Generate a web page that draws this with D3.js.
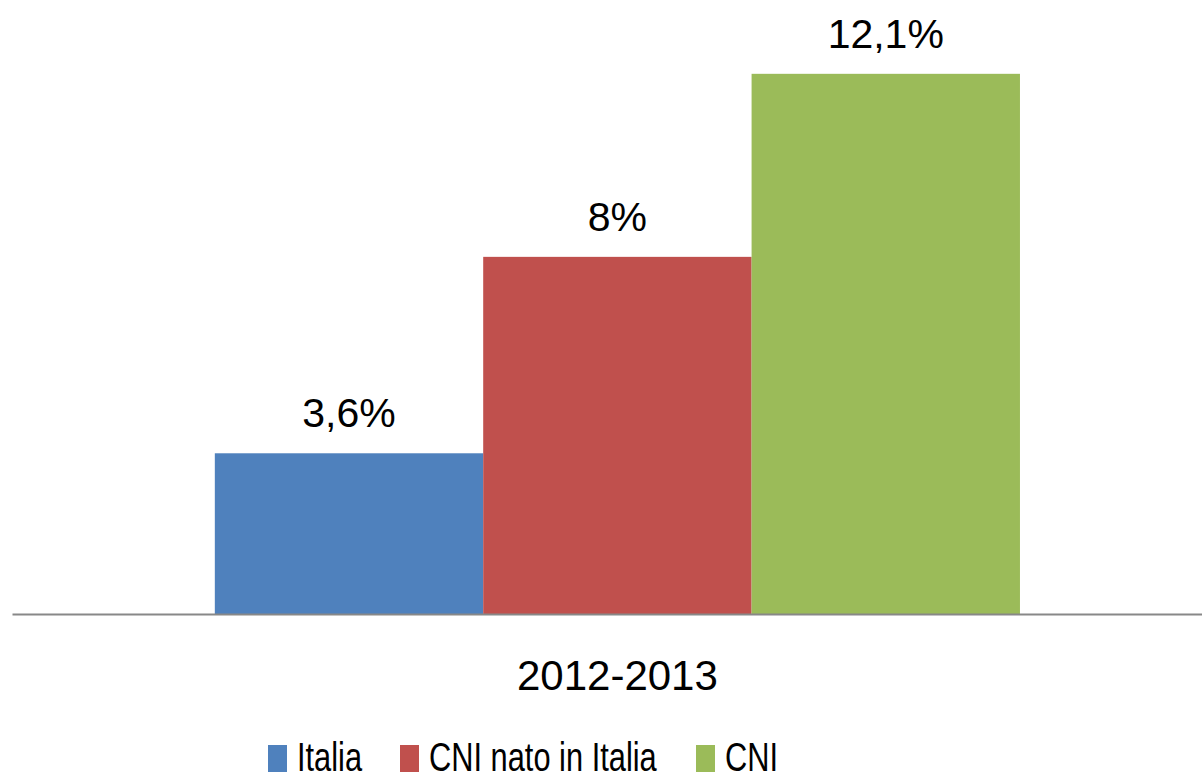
<!DOCTYPE html>
<html>
<head>
<meta charset="utf-8">
<script src="https://cdn.jsdelivr.net/npm/d3@7"></script>
<style>
  body { margin: 0; background: #fff; }
  text { font-family: "Liberation Sans", Arial, sans-serif; fill: #000; }
</style>
</head>
<body>
<div id="chart"></div>
<script>
// data
var categories = ["2012-2013"];
var seriesNames = ["Italia", "CNI nato in Italia", "CNI"];
var values = [3.6, 8, 12.1];
var valueLabels = ["3,6%", "8%", "12,1%"];
var colors = ["#4f81bd", "#c0504d", "#9bbb59"];

var svgWidth = 1202, svgHeight = 778;

var svg = d3.select("#chart")
    .append("svg")
    .attr("width", svgWidth)
    .attr("height", svgHeight);

// scales
var x0 = d3.scaleBand()
    .domain(categories)
    .range([12, 1202])
    .paddingInner(0)
    .paddingOuter(0.239)
    .align(0.527);

var x1 = d3.scaleBand()
    .domain(seriesNames)
    .range([0, x0.bandwidth()]);

var y = d3.scaleLinear()
    .domain([0, 14])
    .range([614, -11]);

var color = d3.scaleOrdinal().domain(seriesNames).range(colors);

var rows = seriesNames.map(function (s, i) {
    return { name: s, value: values[i], label: valueLabels[i], cat: categories[0] };
});

// bars
var barGroup = svg.append("g");
barGroup.selectAll("rect")
    .data(rows)
    .enter()
    .append("rect")
    .attr("x", d => x0(d.cat) + x1(d.name))
    .attr("y", d => y(d.value))
    .attr("width", x1.bandwidth())
    .attr("height", d => y(0) - y(d.value))
    .attr("fill", d => color(d.name));

// value labels
barGroup.selectAll("text")
    .data(rows)
    .enter()
    .append("text")
    .attr("x", d => x0(d.cat) + x1(d.name) + x1.bandwidth() / 2)
    .attr("y", d => y(d.value) - 26)
    .attr("text-anchor", "middle")
    .attr("font-size", "41px")
    .text(d => d.label);

// x axis
var xAxis = d3.axisBottom(x0).tickSize(0).tickSizeOuter(0).tickPadding(46);
var axisG = svg.append("g")
    .attr("transform", `translate(0, ${y(0)})`)
    .call(xAxis);
axisG.select(".domain").attr("stroke", "#888").attr("stroke-width", 2);
axisG.selectAll(".tick text")
    .attr("font-size", "42px")
    .attr("font-family", "'Liberation Sans', Arial, sans-serif")
    .attr("fill", "#000");

// legend
var legendX = [268, 400, 696];
var legend = svg.append("g");
var items = legend.selectAll("g")
    .data(seriesNames)
    .enter()
    .append("g")
    .attr("transform", (d, i) => `translate(${legendX[i]}, 745)`);

items.append("rect")
    .attr("width", 19)
    .attr("height", 27)
    .attr("fill", d => color(d));

// legend text is narrower in the original, squeeze it a bit
items.append("text")
    .attr("x", 29)
    .attr("y", 26)
    .attr("font-size", "40px")
    .text(d => d)
    .each(function () {
        var w = this.getComputedTextLength();
        d3.select(this)
            .attr("textLength", w * 0.77)
            .attr("lengthAdjust", "spacingAndGlyphs");
    });
</script>
</body>
</html>
